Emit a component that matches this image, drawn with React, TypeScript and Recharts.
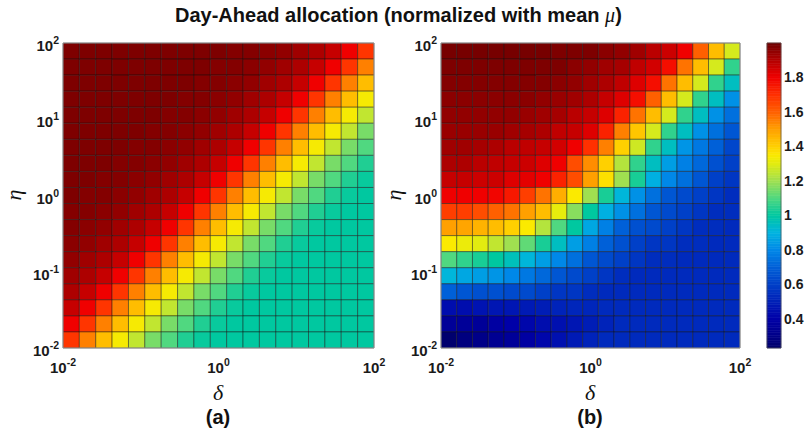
import React from 'react';
import { ComposedChart, XAxis, YAxis, ReferenceArea } from 'recharts';

// ---------- data ----------
const deltaTicks = [0.01, 1, 100];
const etaTicks = [0.01, 0.1, 1, 10, 100];
const colorbarTicks = [0.4, 0.6, 0.8, 1, 1.2, 1.4, 1.6, 1.8];
const colorRange: [number, number] = [0.23, 2.0];
const gridSize = 19;

// rows: eta = 1e2 (top) ... 1e-2 (bottom); columns: delta = 1e-2 ... 1e2
const allocationA: number[][] = [
  [1.98,1.98,1.98,1.98,1.98,1.98,1.98,1.98,1.98,1.98,1.97,1.97,1.96,1.95,1.93,1.91,1.87,1.80,1.69],
  [1.98,1.98,1.98,1.98,1.98,1.98,1.98,1.98,1.98,1.97,1.97,1.96,1.95,1.93,1.91,1.87,1.80,1.69,1.55],
  [1.98,1.98,1.98,1.98,1.98,1.98,1.98,1.98,1.97,1.97,1.96,1.95,1.93,1.91,1.87,1.80,1.69,1.55,1.44],
  [1.98,1.98,1.98,1.98,1.98,1.98,1.98,1.97,1.97,1.96,1.95,1.93,1.91,1.87,1.80,1.69,1.55,1.44,1.34],
  [1.98,1.98,1.98,1.98,1.98,1.98,1.97,1.97,1.96,1.95,1.93,1.91,1.87,1.80,1.69,1.55,1.44,1.34,1.25],
  [1.98,1.98,1.98,1.98,1.98,1.97,1.97,1.96,1.95,1.93,1.91,1.87,1.80,1.69,1.55,1.44,1.34,1.25,1.15],
  [1.98,1.98,1.98,1.98,1.97,1.97,1.96,1.95,1.93,1.91,1.87,1.80,1.69,1.55,1.44,1.34,1.25,1.15,1.10],
  [1.98,1.98,1.98,1.97,1.97,1.96,1.95,1.93,1.91,1.87,1.80,1.69,1.55,1.44,1.34,1.25,1.15,1.10,1.04],
  [1.98,1.98,1.97,1.97,1.96,1.95,1.93,1.91,1.87,1.80,1.69,1.55,1.44,1.34,1.25,1.15,1.10,1.04,1.01],
  [1.98,1.97,1.97,1.96,1.95,1.93,1.91,1.87,1.80,1.69,1.55,1.44,1.34,1.25,1.15,1.10,1.04,1.01,1.00],
  [1.97,1.97,1.96,1.95,1.93,1.91,1.87,1.80,1.69,1.55,1.44,1.34,1.25,1.15,1.10,1.04,1.01,1.00,1.00],
  [1.97,1.96,1.95,1.93,1.91,1.87,1.80,1.69,1.55,1.44,1.34,1.25,1.15,1.10,1.04,1.01,1.00,1.00,1.00],
  [1.96,1.95,1.93,1.91,1.87,1.80,1.69,1.55,1.44,1.34,1.25,1.15,1.10,1.04,1.01,1.00,1.00,1.00,1.00],
  [1.95,1.93,1.91,1.87,1.80,1.69,1.55,1.44,1.34,1.25,1.15,1.10,1.04,1.01,1.00,1.00,1.00,1.00,1.00],
  [1.93,1.91,1.87,1.80,1.69,1.55,1.44,1.34,1.25,1.15,1.10,1.04,1.01,1.00,1.00,1.00,1.00,1.00,1.00],
  [1.91,1.87,1.80,1.69,1.55,1.44,1.34,1.25,1.15,1.10,1.04,1.01,1.00,1.00,1.00,1.00,1.00,1.00,1.00],
  [1.87,1.80,1.69,1.55,1.44,1.34,1.25,1.15,1.10,1.04,1.01,1.00,1.00,1.00,1.00,1.00,1.00,1.00,1.00],
  [1.80,1.69,1.55,1.44,1.34,1.25,1.15,1.10,1.04,1.01,1.00,1.00,1.00,1.00,1.00,1.00,1.00,1.00,1.00],
  [1.69,1.55,1.44,1.34,1.25,1.15,1.10,1.04,1.01,1.00,1.00,1.00,1.00,1.00,1.00,1.00,1.00,1.00,1.00],
];

const allocationB: number[][] = [
  [1.99,1.99,1.99,1.99,1.99,1.99,1.99,1.98,1.98,1.98,1.96,1.95,1.93,1.89,1.86,1.80,1.60,1.44,1.28],
  [1.98,1.98,1.98,1.98,1.98,1.98,1.98,1.98,1.96,1.95,1.93,1.92,1.88,1.85,1.77,1.57,1.44,1.28,1.06],
  [1.97,1.97,1.97,1.97,1.97,1.97,1.97,1.96,1.95,1.93,1.91,1.88,1.83,1.77,1.57,1.44,1.28,1.06,0.95],
  [1.96,1.96,1.96,1.96,1.96,1.96,1.95,1.94,1.93,1.91,1.87,1.83,1.77,1.60,1.44,1.28,1.06,0.95,0.82],
  [1.95,1.95,1.95,1.95,1.95,1.94,1.93,1.92,1.89,1.87,1.83,1.73,1.57,1.44,1.28,1.06,0.95,0.82,0.74],
  [1.94,1.94,1.94,1.94,1.93,1.92,1.91,1.88,1.87,1.83,1.73,1.55,1.42,1.28,1.06,0.95,0.82,0.74,0.67],
  [1.93,1.93,1.92,1.91,1.89,1.88,1.87,1.85,1.80,1.70,1.55,1.40,1.27,1.06,0.95,0.83,0.76,0.70,0.62],
  [1.91,1.91,1.89,1.88,1.87,1.86,1.83,1.80,1.64,1.53,1.40,1.23,1.06,0.95,0.85,0.78,0.72,0.65,0.60],
  [1.87,1.87,1.86,1.86,1.83,1.82,1.80,1.73,1.64,1.50,1.37,1.20,1.03,0.89,0.80,0.74,0.67,0.60,0.57],
  [1.80,1.80,1.80,1.79,1.75,1.67,1.57,1.47,1.35,1.20,1.03,0.91,0.82,0.74,0.67,0.63,0.60,0.57,0.54],
  [1.67,1.67,1.64,1.60,1.57,1.50,1.44,1.31,1.17,1.00,0.89,0.82,0.74,0.67,0.63,0.60,0.57,0.54,0.54],
  [1.50,1.49,1.46,1.44,1.40,1.35,1.23,1.10,1.00,0.87,0.78,0.70,0.65,0.63,0.60,0.57,0.54,0.54,0.53],
  [1.35,1.32,1.30,1.25,1.20,1.12,1.03,0.95,0.85,0.78,0.70,0.65,0.60,0.57,0.57,0.54,0.54,0.53,0.53],
  [1.10,1.06,1.03,1.00,0.96,0.91,0.85,0.80,0.74,0.67,0.63,0.60,0.57,0.54,0.54,0.53,0.53,0.53,0.53],
  [0.91,0.87,0.85,0.83,0.80,0.76,0.72,0.67,0.63,0.60,0.57,0.54,0.53,0.53,0.53,0.53,0.53,0.53,0.53],
  [0.70,0.67,0.65,0.65,0.63,0.63,0.60,0.57,0.57,0.54,0.53,0.53,0.53,0.53,0.53,0.53,0.53,0.53,0.53],
  [0.44,0.44,0.46,0.47,0.47,0.48,0.49,0.51,0.52,0.52,0.53,0.53,0.53,0.53,0.53,0.53,0.53,0.53,0.53],
  [0.35,0.35,0.35,0.38,0.40,0.42,0.44,0.45,0.47,0.49,0.51,0.53,0.53,0.53,0.53,0.53,0.53,0.53,0.53],
  [0.24,0.28,0.30,0.33,0.35,0.38,0.42,0.45,0.48,0.51,0.53,0.53,0.53,0.53,0.53,0.53,0.53,0.53,0.53],
];

// ---------- colour map (jet-like, sampled from the colour bar) ----------
const cmapStops: [number, string][] = [
  [0.23, '#00006a'], [0.30, '#000088'], [0.40, '#0000a8'], [0.50, '#0020b8'],
  [0.60, '#0040c8'], [0.70, '#0060d8'], [0.80, '#0088e8'], [0.90, '#00b4e0'],
  [1.00, '#00c8a0'], [1.10, '#50d880'], [1.20, '#a0e050'], [1.30, '#e2ec10'],
  [1.35, '#fbea00'], [1.40, '#ffd000'], [1.50, '#ffa000'], [1.60, '#ff6000'],
  [1.70, '#ff3000'], [1.80, '#f00000'], [1.90, '#b40000'], [2.00, '#700000'],
];

function hexToRgb(h: string) {
  return [parseInt(h.slice(1, 3), 16), parseInt(h.slice(3, 5), 16), parseInt(h.slice(5, 7), 16)];
}
function colorFor(v: number): string {
  if (v <= cmapStops[0][0]) return cmapStops[0][1];
  for (let i = 1; i < cmapStops.length; i++) {
    const [v1, c1] = cmapStops[i];
    const [v0, c0] = cmapStops[i - 1];
    if (v <= v1) {
      const t = (v - v0) / (v1 - v0);
      const a = hexToRgb(c0), b = hexToRgb(c1);
      const m = a.map((x, k) => Math.round(x + (b[k] - x) * t));
      return `rgb(${m[0]},${m[1]},${m[2]})`;
    }
  }
  return cmapStops[cmapStops.length - 1][1];
}

const edges = Array.from({ length: gridSize + 1 }, (_, k) => Math.pow(10, -2 + (4 * k) / gridSize));

// colour-bar slices (fine steps through the colour range)
const barSteps = 120;
const barEdges = Array.from({ length: barSteps + 1 }, (_, k) => colorRange[0] + ((colorRange[1] - colorRange[0]) * k) / barSteps);

const SANS = '"Liberation Sans", Arial, Helvetica, sans-serif';
const SERIF = '"Liberation Serif", "DejaVu Serif", "Times New Roman", serif';

function expOf(v: number) {
  return Math.round(Math.log10(v));
}

const PowTickX = (props: any) => {
  const { x, y, payload } = props;
  return (
    <text x={x} y={y + 25} textAnchor="middle" fontFamily={SANS} fontWeight="bold" fontSize={15} fill="#1a1a1a">
      <tspan>10</tspan>
      <tspan dy={-7} fontSize={10.5}>{expOf(payload.value)}</tspan>
    </text>
  );
};

const PowTickY = (props: any) => {
  const { x, y, payload } = props;
  return (
    <text x={x - 4} y={y + 8} textAnchor="end" fontFamily={SANS} fontWeight="bold" fontSize={15} fill="#1a1a1a">
      <tspan>10</tspan>
      <tspan dy={-7} fontSize={10.5}>{expOf(payload.value)}</tspan>
    </text>
  );
};

function HeatPanel({ data, width, marginLeft, marginRight, yAxisWidth }: { data: number[][]; width: number; marginLeft: number; marginRight: number; yAxisWidth: number }) {
  const cells: React.ReactNode[] = [];
  data.forEach((row, k) => {
    const r = gridSize - 1 - k;
    row.forEach((v, c) => {
      cells.push(
        <ReferenceArea
          key={`c-${k}-${c}`}
          x1={edges[c]}
          x2={edges[c + 1]}
          y1={edges[r]}
          y2={edges[r + 1]}
          fill={colorFor(v)}
          fillOpacity={1}
          stroke="#111"
          strokeOpacity={0.55}
          strokeWidth={0.8}
          ifOverflow="visible"
        />
      );
    });
  });
  return (
    <ComposedChart width={width} height={434} margin={{ top: 43, left: marginLeft, right: marginRight, bottom: 56 }}>
      <XAxis
        type="number"
        dataKey="x"
        scale="log"
        domain={[0.01, 100]}
        ticks={deltaTicks}
        interval={0}
        allowDataOverflow
        axisLine={false}
        tickLine={false}
        tickSize={0}
        tickMargin={0}
        height={30}
        tick={PowTickX}
      />
      <YAxis
        type="number"
        dataKey="y"
        scale="log"
        domain={[0.01, 100]}
        ticks={etaTicks}
        interval={0}
        allowDataOverflow
        axisLine={false}
        tickLine={false}
        tickSize={0}
        tickMargin={0}
        width={yAxisWidth}
        tick={PowTickY}
      />
      {cells}
      <ReferenceArea x1={0.01} x2={100} y1={0.01} y2={100} fill="none" fillOpacity={0} stroke="#9a9a9a" strokeWidth={1} ifOverflow="visible" />
    </ComposedChart>
  );
}

function ColorBar() {
  return (
    <ComposedChart width={66} height={434} margin={{ top: 43, left: 27, right: 0, bottom: 86 }}>
      <XAxis type="number" dataKey="x" domain={[0, 1]} allowDataOverflow hide />
      <YAxis
        type="number"
        dataKey="y"
        orientation="right"
        domain={colorRange}
        ticks={colorbarTicks}
        interval={0}
        allowDataOverflow
        width={25}
        axisLine={false}
        tickLine={false}
        tickSize={0}
        tickMargin={3}
        tick={{ fill: '#1a1a1a', fontSize: 14, fontWeight: 'bold', fontFamily: SANS }}
        tickFormatter={(v: number) => (v === 1 ? '1' : v.toFixed(1))}
      />
      {barEdges.slice(0, -1).map((lo, i) => (
        <ReferenceArea
          key={`cb-${i}`}
          x1={0}
          x2={1}
          y1={lo}
          y2={barEdges[i + 1]}
          fill={colorFor((lo + barEdges[i + 1]) / 2)}
          fillOpacity={1}
          stroke={colorFor((lo + barEdges[i + 1]) / 2)}
          strokeWidth={0.6}
          ifOverflow="visible"
        />
      ))}
      <ReferenceArea x1={0} x2={1} y1={colorRange[0]} y2={colorRange[1]} fill="none" fillOpacity={0} stroke="#555" strokeWidth={0.7} ifOverflow="visible" />
    </ComposedChart>
  );
}

export default function App() {
  return (
    <div style={{ position: 'absolute', left: 0, top: 0, width: 806, height: 434, background: '#fff', overflow: 'hidden' }}>
      <div style={{ position: 'absolute', left: 0, top: 0 }}>
        <HeatPanel data={allocationA} width={400} marginLeft={18} marginRight={26} yAxisWidth={45} />
      </div>
      <div style={{ position: 'absolute', left: 400, top: 0 }}>
        <HeatPanel data={allocationB} width={366} marginLeft={5} marginRight={26} yAxisWidth={36} />
      </div>
      <div style={{ position: 'absolute', left: 740, top: 0 }}>
        <ColorBar />
      </div>
      <svg width={806} height={434} style={{ position: 'absolute', left: 0, top: 0, pointerEvents: 'none' }}>
        <text x={175} y={22} fontFamily={SANS} fontWeight="bold" fontSize={20} fill="#111">
          Day-Ahead allocation (normalized with mean <tspan fontFamily={SERIF} fontStyle="italic" fontWeight="normal">μ</tspan>)
        </text>
        <text x={218} y={400} textAnchor="middle" fontFamily={SERIF} fontStyle="italic" fontSize={22} fill="#111">δ</text>
        <text x={590} y={400} textAnchor="middle" fontFamily={SERIF} fontStyle="italic" fontSize={22} fill="#111">δ</text>
        <text x={21} y={195} textAnchor="middle" fontFamily={SERIF} fontStyle="italic" fontSize={22} fill="#111" transform="rotate(-90 21 195)">η</text>
        <text x={401} y={195} textAnchor="middle" fontFamily={SERIF} fontStyle="italic" fontSize={22} fill="#111" transform="rotate(-90 401 195)">η</text>
        <text x={218} y={424} textAnchor="middle" fontFamily={SANS} fontWeight="bold" fontSize={20} fill="#111">(a)</text>
        <text x={590} y={424} textAnchor="middle" fontFamily={SANS} fontWeight="bold" fontSize={20} fill="#111">(b)</text>
      </svg>
    </div>
  );
}
